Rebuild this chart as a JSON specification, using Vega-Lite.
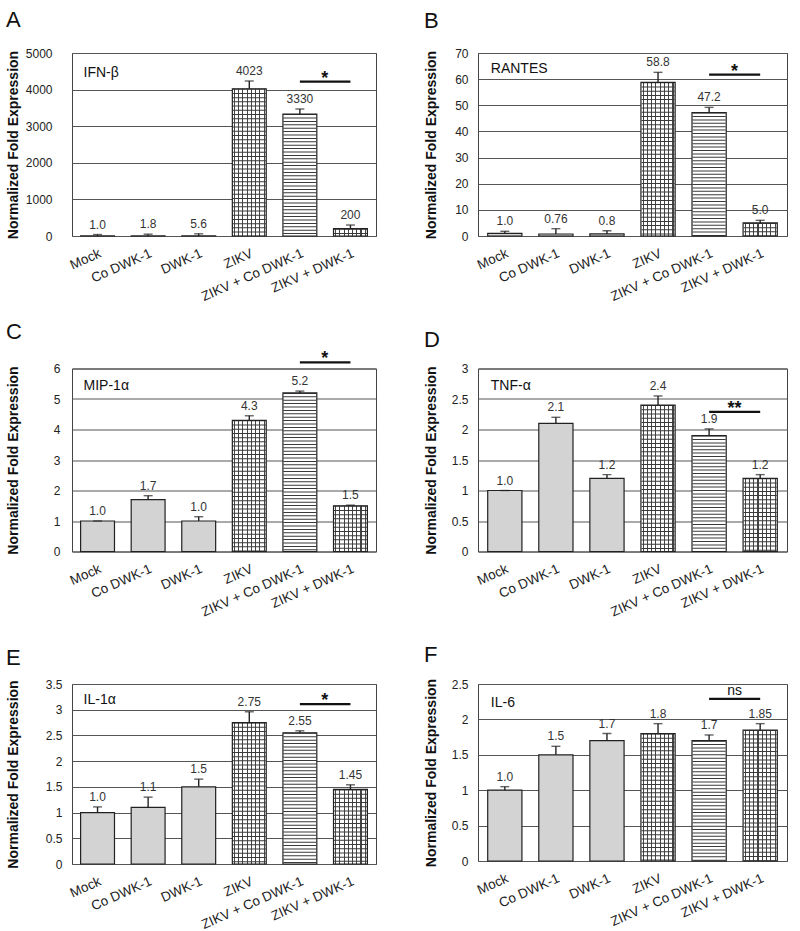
{
"$schema":"https://vega.github.io/schema/vega-lite/v6.json",
"background":"white",
"padding":{"left":5,"top":8,"right":5,"bottom":5},
"datasets":{
"bars":[
{"p":"A","g":"Mock","v":1.0,"hi":40,"lab":"1.0"},
{"p":"A","g":"Co DWK-1","v":1.8,"hi":50,"lab":"1.8"},
{"p":"A","g":"DWK-1","v":5.6,"hi":60,"lab":"5.6"},
{"p":"A","g":"ZIKV","v":4023,"hi":4235,"lab":"4023"},
{"p":"A","g":"ZIKV + Co DWK-1","v":3330,"hi":3470,"lab":"3330"},
{"p":"A","g":"ZIKV + DWK-1","v":200,"hi":300,"lab":"200"},
{"p":"B","g":"Mock","v":1.0,"hi":1.8,"lab":"1.0"},
{"p":"B","g":"Co DWK-1","v":0.76,"hi":2.8,"lab":"0.76"},
{"p":"B","g":"DWK-1","v":0.8,"hi":2.0,"lab":"0.8"},
{"p":"B","g":"ZIKV","v":58.8,"hi":62.6,"lab":"58.8"},
{"p":"B","g":"ZIKV + Co DWK-1","v":47.2,"hi":49.2,"lab":"47.2"},
{"p":"B","g":"ZIKV + DWK-1","v":5.0,"hi":6.0,"lab":"5.0"},
{"p":"C","g":"Mock","v":1.0,"hi":1.0,"lab":"1.0"},
{"p":"C","g":"Co DWK-1","v":1.7,"hi":1.83,"lab":"1.7"},
{"p":"C","g":"DWK-1","v":1.0,"hi":1.14,"lab":"1.0"},
{"p":"C","g":"ZIKV","v":4.3,"hi":4.45,"lab":"4.3"},
{"p":"C","g":"ZIKV + Co DWK-1","v":5.2,"hi":5.26,"lab":"5.2"},
{"p":"C","g":"ZIKV + DWK-1","v":1.5,"hi":1.52,"lab":"1.5"},
{"p":"D","g":"Mock","v":1.0,"hi":1.0,"lab":"1.0"},
{"p":"D","g":"Co DWK-1","v":2.1,"hi":2.2,"lab":"2.1"},
{"p":"D","g":"DWK-1","v":1.2,"hi":1.26,"lab":"1.2"},
{"p":"D","g":"ZIKV","v":2.4,"hi":2.55,"lab":"2.4"},
{"p":"D","g":"ZIKV + Co DWK-1","v":1.9,"hi":2.01,"lab":"1.9"},
{"p":"D","g":"ZIKV + DWK-1","v":1.2,"hi":1.26,"lab":"1.2"},
{"p":"E","g":"Mock","v":1.0,"hi":1.11,"lab":"1.0"},
{"p":"E","g":"Co DWK-1","v":1.1,"hi":1.3,"lab":"1.1"},
{"p":"E","g":"DWK-1","v":1.5,"hi":1.65,"lab":"1.5"},
{"p":"E","g":"ZIKV","v":2.75,"hi":2.96,"lab":"2.75"},
{"p":"E","g":"ZIKV + Co DWK-1","v":2.55,"hi":2.59,"lab":"2.55"},
{"p":"E","g":"ZIKV + DWK-1","v":1.45,"hi":1.54,"lab":"1.45"},
{"p":"F","g":"Mock","v":1.0,"hi":1.05,"lab":"1.0"},
{"p":"F","g":"Co DWK-1","v":1.5,"hi":1.62,"lab":"1.5"},
{"p":"F","g":"DWK-1","v":1.7,"hi":1.8,"lab":"1.7"},
{"p":"F","g":"ZIKV","v":1.8,"hi":1.94,"lab":"1.8"},
{"p":"F","g":"ZIKV + Co DWK-1","v":1.7,"hi":1.78,"lab":"1.7"},
{"p":"F","g":"ZIKV + DWK-1","v":1.85,"hi":1.94,"lab":"1.85"}
],
"ann":[
{"p":"A","name":"IFN-β","m":"Mock","ny":4344,"g":"ZIKV + Co DWK-1","g2":"ZIKV + DWK-1","sy":4216,"sig":"*"},
{"p":"B","name":"RANTES","m":"Mock","ny":62.5,"g":"ZIKV + Co DWK-1","g2":"ZIKV + DWK-1","sy":61.7,"sig":"*"},
{"p":"C","name":"MIP-1α","m":"Mock","ny":5.28,"g":"ZIKV + Co DWK-1","g2":"ZIKV + DWK-1","sy":6.2,"sig":"*"},
{"p":"D","name":"TNF-α","m":"Mock","ny":2.65,"g":"ZIKV + Co DWK-1","g2":"ZIKV + DWK-1","sy":2.29,"sig":"**"},
{"p":"E","name":"IL-1α","m":"Mock","ny":3.11,"g":"ZIKV + Co DWK-1","g2":"ZIKV + DWK-1","sy":3.11,"sig":"*"},
{"p":"F","name":"IL-6","m":"Mock","ny":2.18,"g":"ZIKV + Co DWK-1","g2":"ZIKV + DWK-1","sy":2.29,"sig":"ns"}
]
},
"columns":2,
"spacing":{"row":132.5,"column":102},
"bounds":"flush",
"concat":[
{
"width":304,"height":183,
"title":{"text":"A","offset":15},
"data":{"name":"bars"},
"transform":[{"filter":"datum.p=='A'"}],
"encoding":{
"x":{"field":"g","type":"nominal","title":null,"scale":{"type":"band","domain":["Mock","Co DWK-1","DWK-1","ZIKV","ZIKV + Co DWK-1","ZIKV + DWK-1"],"paddingInner":0.33,"paddingOuter":0.17}},
"y":{"field":"v","type":"quantitative","title":"Normalized  Fold Expression","scale":{"domain":[0,5000],"nice":false},"axis":{"values":[0,1000,2000,3000,4000,5000],"labelPadding":20}}
},
"layer":[
{"mark":{"type":"bar"},"encoding":{"fill":{"condition":{"test":"datum.g=='ZIKV + Co DWK-1'","value":"#ffffff"},"value":"#d3d3d3"}}},
{"transform":[{"filter":"datum.g=='ZIKV'||datum.g=='ZIKV + DWK-1'"}],"mark":{"type":"bar","fill":{"gradient":"linear","x1":0,"y1":0,"x2":1,"y2":0,"stops":[{"offset":0,"color":"#fff"},{"offset":0.046,"color":"#fff"},{"offset":0.046,"color":"#444"},{"offset":0.079,"color":"#444"},{"offset":0.079,"color":"#fff"},{"offset":0.171,"color":"#fff"},{"offset":0.171,"color":"#444"},{"offset":0.204,"color":"#444"},{"offset":0.204,"color":"#fff"},{"offset":0.296,"color":"#fff"},{"offset":0.296,"color":"#444"},{"offset":0.329,"color":"#444"},{"offset":0.329,"color":"#fff"},{"offset":0.421,"color":"#fff"},{"offset":0.421,"color":"#444"},{"offset":0.454,"color":"#444"},{"offset":0.454,"color":"#fff"},{"offset":0.546,"color":"#fff"},{"offset":0.546,"color":"#444"},{"offset":0.579,"color":"#444"},{"offset":0.579,"color":"#fff"},{"offset":0.671,"color":"#fff"},{"offset":0.671,"color":"#444"},{"offset":0.704,"color":"#444"},{"offset":0.704,"color":"#fff"},{"offset":0.796,"color":"#fff"},{"offset":0.796,"color":"#444"},{"offset":0.829,"color":"#444"},{"offset":0.829,"color":"#fff"},{"offset":0.921,"color":"#fff"},{"offset":0.921,"color":"#444"},{"offset":0.954,"color":"#444"},{"offset":0.954,"color":"#fff"},{"offset":1,"color":"#fff"}]}}},
{"transform":[{"filter":"indexof(datum.g,'ZIKV')==0"}],"mark":{"type":"rule","strokeWidth":33,"color":"#3a3a3a","strokeCap":"butt"},"encoding":{"y2":{"datum":0},"strokeDash":{"condition":{"test":"datum.g=='ZIKV + Co DWK-1'","value":[1,2.4]},"value":[1,3.2]}}},
{"mark":{"type":"bar","fill":"transparent","stroke":"#222","strokeWidth":1.2}},
{"mark":{"type":"rule","style":"err"},"encoding":{"y2":{"field":"hi"}}},
{"mark":{"type":"tick","size":9,"thickness":1.4,"color":"#222"},"encoding":{"y":{"field":"hi","type":"quantitative"}}},
{"mark":{"type":"text","style":"vlab"},"encoding":{"y":{"field":"hi","type":"quantitative"},"text":{"field":"lab"}}},
{"data":{"name":"ann"},"transform":[{"filter":"datum.p=='A'"}],"mark":{"type":"rule","style":"sig"},"encoding":{"x2":{"field":"g2"},"y":{"field":"sy","type":"quantitative"}}},
{"data":{"name":"ann"},"transform":[{"filter":"datum.p=='A'"}],"mark":{"type":"text","style":"sigt","dx":25},"encoding":{"y":{"field":"sy","type":"quantitative"},"text":{"field":"sig"}}},
{"data":{"name":"ann"},"transform":[{"filter":"datum.p=='A'"}],"mark":{"type":"text","style":"name"},"encoding":{"x":{"field":"m","type":"nominal"},"y":{"field":"ny","type":"quantitative"},"text":{"field":"name"}}}
]
},
{
"width":309,"height":183,
"title":{"text":"B","offset":14},
"data":{"name":"bars"},
"transform":[{"filter":"datum.p=='B'"}],
"encoding":{
"x":{"field":"g","type":"nominal","title":null,"scale":{"type":"band","domain":["Mock","Co DWK-1","DWK-1","ZIKV","ZIKV + Co DWK-1","ZIKV + DWK-1"],"paddingInner":0.33,"paddingOuter":0.19}},
"y":{"field":"v","type":"quantitative","title":"Normalized  Fold Expression","scale":{"domain":[0,70],"nice":false},"axis":{"values":[0,10,20,30,40,50,60,70],"labelPadding":10,"minExtent":33,"maxExtent":33}}
},
"layer":[
{"mark":{"type":"bar"},"encoding":{"fill":{"condition":{"test":"datum.g=='ZIKV + Co DWK-1'","value":"#ffffff"},"value":"#d3d3d3"}}},
{"transform":[{"filter":"datum.g=='ZIKV'||datum.g=='ZIKV + DWK-1'"}],"mark":{"type":"bar","fill":{"gradient":"linear","x1":0,"y1":0,"x2":1,"y2":0,"stops":[{"offset":0,"color":"#fff"},{"offset":0.046,"color":"#fff"},{"offset":0.046,"color":"#444"},{"offset":0.079,"color":"#444"},{"offset":0.079,"color":"#fff"},{"offset":0.171,"color":"#fff"},{"offset":0.171,"color":"#444"},{"offset":0.204,"color":"#444"},{"offset":0.204,"color":"#fff"},{"offset":0.296,"color":"#fff"},{"offset":0.296,"color":"#444"},{"offset":0.329,"color":"#444"},{"offset":0.329,"color":"#fff"},{"offset":0.421,"color":"#fff"},{"offset":0.421,"color":"#444"},{"offset":0.454,"color":"#444"},{"offset":0.454,"color":"#fff"},{"offset":0.546,"color":"#fff"},{"offset":0.546,"color":"#444"},{"offset":0.579,"color":"#444"},{"offset":0.579,"color":"#fff"},{"offset":0.671,"color":"#fff"},{"offset":0.671,"color":"#444"},{"offset":0.704,"color":"#444"},{"offset":0.704,"color":"#fff"},{"offset":0.796,"color":"#fff"},{"offset":0.796,"color":"#444"},{"offset":0.829,"color":"#444"},{"offset":0.829,"color":"#fff"},{"offset":0.921,"color":"#fff"},{"offset":0.921,"color":"#444"},{"offset":0.954,"color":"#444"},{"offset":0.954,"color":"#fff"},{"offset":1,"color":"#fff"}]}}},
{"transform":[{"filter":"indexof(datum.g,'ZIKV')==0"}],"mark":{"type":"rule","strokeWidth":33,"color":"#3a3a3a","strokeCap":"butt"},"encoding":{"y2":{"datum":0},"strokeDash":{"condition":{"test":"datum.g=='ZIKV + Co DWK-1'","value":[1,2.4]},"value":[1,3.2]}}},
{"mark":{"type":"bar","fill":"transparent","stroke":"#222","strokeWidth":1.2}},
{"mark":{"type":"rule","style":"err"},"encoding":{"y2":{"field":"hi"}}},
{"mark":{"type":"tick","size":9,"thickness":1.4,"color":"#222"},"encoding":{"y":{"field":"hi","type":"quantitative"}}},
{"mark":{"type":"text","style":"vlab"},"encoding":{"y":{"field":"hi","type":"quantitative"},"text":{"field":"lab"}}},
{"data":{"name":"ann"},"transform":[{"filter":"datum.p=='B'"}],"mark":{"type":"rule","style":"sig"},"encoding":{"x2":{"field":"g2"},"y":{"field":"sy","type":"quantitative"}}},
{"data":{"name":"ann"},"transform":[{"filter":"datum.p=='B'"}],"mark":{"type":"text","style":"sigt","dx":25.5},"encoding":{"y":{"field":"sy","type":"quantitative"},"text":{"field":"sig"}}},
{"data":{"name":"ann"},"transform":[{"filter":"datum.p=='B'"}],"mark":{"type":"text","style":"name"},"encoding":{"x":{"field":"m","type":"nominal"},"y":{"field":"ny","type":"quantitative"},"text":{"field":"name"}}}
]
},
{
"width":304,"height":183,
"title":{"text":"C","offset":6},
"data":{"name":"bars"},
"transform":[{"filter":"datum.p=='C'"}],
"encoding":{
"x":{"field":"g","type":"nominal","title":null,"scale":{"type":"band","domain":["Mock","Co DWK-1","DWK-1","ZIKV","ZIKV + Co DWK-1","ZIKV + DWK-1"],"paddingInner":0.33,"paddingOuter":0.17}},
"y":{"field":"v","type":"quantitative","title":"Normalized  Fold Expression","scale":{"domain":[0,6],"nice":false},"axis":{"values":[0,1,2,3,4,5,6],"labelPadding":12}}
},
"layer":[
{"mark":{"type":"bar"},"encoding":{"fill":{"condition":{"test":"datum.g=='ZIKV + Co DWK-1'","value":"#ffffff"},"value":"#d3d3d3"}}},
{"transform":[{"filter":"datum.g=='ZIKV'||datum.g=='ZIKV + DWK-1'"}],"mark":{"type":"bar","fill":{"gradient":"linear","x1":0,"y1":0,"x2":1,"y2":0,"stops":[{"offset":0,"color":"#fff"},{"offset":0.046,"color":"#fff"},{"offset":0.046,"color":"#444"},{"offset":0.079,"color":"#444"},{"offset":0.079,"color":"#fff"},{"offset":0.171,"color":"#fff"},{"offset":0.171,"color":"#444"},{"offset":0.204,"color":"#444"},{"offset":0.204,"color":"#fff"},{"offset":0.296,"color":"#fff"},{"offset":0.296,"color":"#444"},{"offset":0.329,"color":"#444"},{"offset":0.329,"color":"#fff"},{"offset":0.421,"color":"#fff"},{"offset":0.421,"color":"#444"},{"offset":0.454,"color":"#444"},{"offset":0.454,"color":"#fff"},{"offset":0.546,"color":"#fff"},{"offset":0.546,"color":"#444"},{"offset":0.579,"color":"#444"},{"offset":0.579,"color":"#fff"},{"offset":0.671,"color":"#fff"},{"offset":0.671,"color":"#444"},{"offset":0.704,"color":"#444"},{"offset":0.704,"color":"#fff"},{"offset":0.796,"color":"#fff"},{"offset":0.796,"color":"#444"},{"offset":0.829,"color":"#444"},{"offset":0.829,"color":"#fff"},{"offset":0.921,"color":"#fff"},{"offset":0.921,"color":"#444"},{"offset":0.954,"color":"#444"},{"offset":0.954,"color":"#fff"},{"offset":1,"color":"#fff"}]}}},
{"transform":[{"filter":"indexof(datum.g,'ZIKV')==0"}],"mark":{"type":"rule","strokeWidth":33,"color":"#3a3a3a","strokeCap":"butt"},"encoding":{"y2":{"datum":0},"strokeDash":{"condition":{"test":"datum.g=='ZIKV + Co DWK-1'","value":[1,2.4]},"value":[1,3.2]}}},
{"mark":{"type":"bar","fill":"transparent","stroke":"#222","strokeWidth":1.2}},
{"mark":{"type":"rule","style":"err"},"encoding":{"y2":{"field":"hi"}}},
{"mark":{"type":"tick","size":9,"thickness":1.4,"color":"#222"},"encoding":{"y":{"field":"hi","type":"quantitative"}}},
{"mark":{"type":"text","style":"vlab"},"encoding":{"y":{"field":"hi","type":"quantitative"},"text":{"field":"lab"}}},
{"data":{"name":"ann"},"transform":[{"filter":"datum.p=='C'"}],"mark":{"type":"rule","style":"sig"},"encoding":{"x2":{"field":"g2"},"y":{"field":"sy","type":"quantitative"}}},
{"data":{"name":"ann"},"transform":[{"filter":"datum.p=='C'"}],"mark":{"type":"text","style":"sigt","dx":25},"encoding":{"y":{"field":"sy","type":"quantitative"},"text":{"field":"sig"}}},
{"data":{"name":"ann"},"transform":[{"filter":"datum.p=='C'"}],"mark":{"type":"text","style":"name"},"encoding":{"x":{"field":"m","type":"nominal"},"y":{"field":"ny","type":"quantitative"},"text":{"field":"name"}}}
]
},
{
"width":309,"height":183,
"title":{"text":"D","offset":11},
"data":{"name":"bars"},
"transform":[{"filter":"datum.p=='D'"}],
"encoding":{
"x":{"field":"g","type":"nominal","title":null,"scale":{"type":"band","domain":["Mock","Co DWK-1","DWK-1","ZIKV","ZIKV + Co DWK-1","ZIKV + DWK-1"],"paddingInner":0.33,"paddingOuter":0.19}},
"y":{"field":"v","type":"quantitative","title":"Normalized  Fold Expression","scale":{"domain":[0,3],"nice":false},"axis":{"values":[0,0.5,1,1.5,2,2.5,3],"labelPadding":10,"minExtent":33,"maxExtent":33}}
},
"layer":[
{"mark":{"type":"bar"},"encoding":{"fill":{"condition":{"test":"datum.g=='ZIKV + Co DWK-1'","value":"#ffffff"},"value":"#d3d3d3"}}},
{"transform":[{"filter":"datum.g=='ZIKV'||datum.g=='ZIKV + DWK-1'"}],"mark":{"type":"bar","fill":{"gradient":"linear","x1":0,"y1":0,"x2":1,"y2":0,"stops":[{"offset":0,"color":"#fff"},{"offset":0.046,"color":"#fff"},{"offset":0.046,"color":"#444"},{"offset":0.079,"color":"#444"},{"offset":0.079,"color":"#fff"},{"offset":0.171,"color":"#fff"},{"offset":0.171,"color":"#444"},{"offset":0.204,"color":"#444"},{"offset":0.204,"color":"#fff"},{"offset":0.296,"color":"#fff"},{"offset":0.296,"color":"#444"},{"offset":0.329,"color":"#444"},{"offset":0.329,"color":"#fff"},{"offset":0.421,"color":"#fff"},{"offset":0.421,"color":"#444"},{"offset":0.454,"color":"#444"},{"offset":0.454,"color":"#fff"},{"offset":0.546,"color":"#fff"},{"offset":0.546,"color":"#444"},{"offset":0.579,"color":"#444"},{"offset":0.579,"color":"#fff"},{"offset":0.671,"color":"#fff"},{"offset":0.671,"color":"#444"},{"offset":0.704,"color":"#444"},{"offset":0.704,"color":"#fff"},{"offset":0.796,"color":"#fff"},{"offset":0.796,"color":"#444"},{"offset":0.829,"color":"#444"},{"offset":0.829,"color":"#fff"},{"offset":0.921,"color":"#fff"},{"offset":0.921,"color":"#444"},{"offset":0.954,"color":"#444"},{"offset":0.954,"color":"#fff"},{"offset":1,"color":"#fff"}]}}},
{"transform":[{"filter":"indexof(datum.g,'ZIKV')==0"}],"mark":{"type":"rule","strokeWidth":33,"color":"#3a3a3a","strokeCap":"butt"},"encoding":{"y2":{"datum":0},"strokeDash":{"condition":{"test":"datum.g=='ZIKV + Co DWK-1'","value":[1,2.4]},"value":[1,3.2]}}},
{"mark":{"type":"bar","fill":"transparent","stroke":"#222","strokeWidth":1.2}},
{"mark":{"type":"rule","style":"err"},"encoding":{"y2":{"field":"hi"}}},
{"mark":{"type":"tick","size":9,"thickness":1.4,"color":"#222"},"encoding":{"y":{"field":"hi","type":"quantitative"}}},
{"mark":{"type":"text","style":"vlab"},"encoding":{"y":{"field":"hi","type":"quantitative"},"text":{"field":"lab"}}},
{"data":{"name":"ann"},"transform":[{"filter":"datum.p=='D'"}],"mark":{"type":"rule","style":"sig"},"encoding":{"x2":{"field":"g2"},"y":{"field":"sy","type":"quantitative"}}},
{"data":{"name":"ann"},"transform":[{"filter":"datum.p=='D'"}],"mark":{"type":"text","style":"sigt","dx":25.5},"encoding":{"y":{"field":"sy","type":"quantitative"},"text":{"field":"sig"}}},
{"data":{"name":"ann"},"transform":[{"filter":"datum.p=='D'"}],"mark":{"type":"text","style":"name"},"encoding":{"x":{"field":"m","type":"nominal"},"y":{"field":"ny","type":"quantitative"},"text":{"field":"name"}}}
]
},
{
"width":304,"height":180,
"title":{"text":"E","offset":8},
"data":{"name":"bars"},
"transform":[{"filter":"datum.p=='E'"}],
"encoding":{
"x":{"field":"g","type":"nominal","title":null,"scale":{"type":"band","domain":["Mock","Co DWK-1","DWK-1","ZIKV","ZIKV + Co DWK-1","ZIKV + DWK-1"],"paddingInner":0.33,"paddingOuter":0.17}},
"y":{"field":"v","type":"quantitative","title":"Normalized  Fold Expression","scale":{"domain":[0,3.5],"nice":false},"axis":{"values":[0,0.5,1,1.5,2,2.5,3,3.5],"labelPadding":10}}
},
"layer":[
{"mark":{"type":"bar"},"encoding":{"fill":{"condition":{"test":"datum.g=='ZIKV + Co DWK-1'","value":"#ffffff"},"value":"#d3d3d3"}}},
{"transform":[{"filter":"datum.g=='ZIKV'||datum.g=='ZIKV + DWK-1'"}],"mark":{"type":"bar","fill":{"gradient":"linear","x1":0,"y1":0,"x2":1,"y2":0,"stops":[{"offset":0,"color":"#fff"},{"offset":0.046,"color":"#fff"},{"offset":0.046,"color":"#444"},{"offset":0.079,"color":"#444"},{"offset":0.079,"color":"#fff"},{"offset":0.171,"color":"#fff"},{"offset":0.171,"color":"#444"},{"offset":0.204,"color":"#444"},{"offset":0.204,"color":"#fff"},{"offset":0.296,"color":"#fff"},{"offset":0.296,"color":"#444"},{"offset":0.329,"color":"#444"},{"offset":0.329,"color":"#fff"},{"offset":0.421,"color":"#fff"},{"offset":0.421,"color":"#444"},{"offset":0.454,"color":"#444"},{"offset":0.454,"color":"#fff"},{"offset":0.546,"color":"#fff"},{"offset":0.546,"color":"#444"},{"offset":0.579,"color":"#444"},{"offset":0.579,"color":"#fff"},{"offset":0.671,"color":"#fff"},{"offset":0.671,"color":"#444"},{"offset":0.704,"color":"#444"},{"offset":0.704,"color":"#fff"},{"offset":0.796,"color":"#fff"},{"offset":0.796,"color":"#444"},{"offset":0.829,"color":"#444"},{"offset":0.829,"color":"#fff"},{"offset":0.921,"color":"#fff"},{"offset":0.921,"color":"#444"},{"offset":0.954,"color":"#444"},{"offset":0.954,"color":"#fff"},{"offset":1,"color":"#fff"}]}}},
{"transform":[{"filter":"indexof(datum.g,'ZIKV')==0"}],"mark":{"type":"rule","strokeWidth":33,"color":"#3a3a3a","strokeCap":"butt"},"encoding":{"y2":{"datum":0},"strokeDash":{"condition":{"test":"datum.g=='ZIKV + Co DWK-1'","value":[1,2.4]},"value":[1,3.2]}}},
{"mark":{"type":"bar","fill":"transparent","stroke":"#222","strokeWidth":1.2}},
{"mark":{"type":"rule","style":"err"},"encoding":{"y2":{"field":"hi"}}},
{"mark":{"type":"tick","size":9,"thickness":1.4,"color":"#222"},"encoding":{"y":{"field":"hi","type":"quantitative"}}},
{"mark":{"type":"text","style":"vlab"},"encoding":{"y":{"field":"hi","type":"quantitative"},"text":{"field":"lab"}}},
{"data":{"name":"ann"},"transform":[{"filter":"datum.p=='E'"}],"mark":{"type":"rule","style":"sig"},"encoding":{"x2":{"field":"g2"},"y":{"field":"sy","type":"quantitative"}}},
{"data":{"name":"ann"},"transform":[{"filter":"datum.p=='E'"}],"mark":{"type":"text","style":"sigt","dx":25},"encoding":{"y":{"field":"sy","type":"quantitative"},"text":{"field":"sig"}}},
{"data":{"name":"ann"},"transform":[{"filter":"datum.p=='E'"}],"mark":{"type":"text","style":"name"},"encoding":{"x":{"field":"m","type":"nominal"},"y":{"field":"ny","type":"quantitative"},"text":{"field":"name"}}}
]
},
{
"width":309,"height":177,
"title":{"text":"F","offset":9},
"data":{"name":"bars"},
"transform":[{"filter":"datum.p=='F'"}],
"encoding":{
"x":{"field":"g","type":"nominal","title":null,"scale":{"type":"band","domain":["Mock","Co DWK-1","DWK-1","ZIKV","ZIKV + Co DWK-1","ZIKV + DWK-1"],"paddingInner":0.33,"paddingOuter":0.19}},
"y":{"field":"v","type":"quantitative","title":"Normalized  Fold Expression","scale":{"domain":[0,2.5],"nice":false},"axis":{"values":[0,0.5,1,1.5,2,2.5],"labelPadding":10,"minExtent":33,"maxExtent":33}}
},
"layer":[
{"mark":{"type":"bar"},"encoding":{"fill":{"condition":{"test":"datum.g=='ZIKV + Co DWK-1'","value":"#ffffff"},"value":"#d3d3d3"}}},
{"transform":[{"filter":"datum.g=='ZIKV'||datum.g=='ZIKV + DWK-1'"}],"mark":{"type":"bar","fill":{"gradient":"linear","x1":0,"y1":0,"x2":1,"y2":0,"stops":[{"offset":0,"color":"#fff"},{"offset":0.046,"color":"#fff"},{"offset":0.046,"color":"#444"},{"offset":0.079,"color":"#444"},{"offset":0.079,"color":"#fff"},{"offset":0.171,"color":"#fff"},{"offset":0.171,"color":"#444"},{"offset":0.204,"color":"#444"},{"offset":0.204,"color":"#fff"},{"offset":0.296,"color":"#fff"},{"offset":0.296,"color":"#444"},{"offset":0.329,"color":"#444"},{"offset":0.329,"color":"#fff"},{"offset":0.421,"color":"#fff"},{"offset":0.421,"color":"#444"},{"offset":0.454,"color":"#444"},{"offset":0.454,"color":"#fff"},{"offset":0.546,"color":"#fff"},{"offset":0.546,"color":"#444"},{"offset":0.579,"color":"#444"},{"offset":0.579,"color":"#fff"},{"offset":0.671,"color":"#fff"},{"offset":0.671,"color":"#444"},{"offset":0.704,"color":"#444"},{"offset":0.704,"color":"#fff"},{"offset":0.796,"color":"#fff"},{"offset":0.796,"color":"#444"},{"offset":0.829,"color":"#444"},{"offset":0.829,"color":"#fff"},{"offset":0.921,"color":"#fff"},{"offset":0.921,"color":"#444"},{"offset":0.954,"color":"#444"},{"offset":0.954,"color":"#fff"},{"offset":1,"color":"#fff"}]}}},
{"transform":[{"filter":"indexof(datum.g,'ZIKV')==0"}],"mark":{"type":"rule","strokeWidth":33,"color":"#3a3a3a","strokeCap":"butt"},"encoding":{"y2":{"datum":0},"strokeDash":{"condition":{"test":"datum.g=='ZIKV + Co DWK-1'","value":[1,2.4]},"value":[1,3.2]}}},
{"mark":{"type":"bar","fill":"transparent","stroke":"#222","strokeWidth":1.2}},
{"mark":{"type":"rule","style":"err"},"encoding":{"y2":{"field":"hi"}}},
{"mark":{"type":"tick","size":9,"thickness":1.4,"color":"#222"},"encoding":{"y":{"field":"hi","type":"quantitative"}}},
{"mark":{"type":"text","style":"vlab"},"encoding":{"y":{"field":"hi","type":"quantitative"},"text":{"field":"lab"}}},
{"data":{"name":"ann"},"transform":[{"filter":"datum.p=='F'"}],"mark":{"type":"rule","style":"sig"},"encoding":{"x2":{"field":"g2"},"y":{"field":"sy","type":"quantitative"}}},
{"data":{"name":"ann"},"transform":[{"filter":"datum.p=='F'"}],"mark":{"type":"text","style":"sigt","dx":25.5,"fontSize":14,"fontWeight":"normal","dy":-4},"encoding":{"y":{"field":"sy","type":"quantitative"},"text":{"field":"sig"}}},
{"data":{"name":"ann"},"transform":[{"filter":"datum.p=='F'"}],"mark":{"type":"text","style":"name"},"encoding":{"x":{"field":"m","type":"nominal"},"y":{"field":"ny","type":"quantitative"},"text":{"field":"name"}}}
]
}
],
"config":{
"font":"Liberation Sans",
"view":{"stroke":"#444","strokeWidth":1},
"axisX":{"labelAngle":-24,"labelAlign":"right","labelBaseline":"top","labelFontSize":13.5,"labelColor":"#222","ticks":false,"domain":false,"grid":false,"labelPadding":10},
"axisY":{"format":"~r","grid":true,"gridColor":"#555","gridOpacity":1,"ticks":false,"domain":false,"labelFontSize":12,"labelColor":"#222","titleFontSize":14,"titleFontWeight":"bold","titleColor":"#111","titlePadding":7,"minExtent":45,"maxExtent":45},
"title":{"anchor":"start","frame":"bounds","fontSize":22,"fontWeight":"normal","color":"#111"},
"style":{
"err":{"color":"#222","strokeWidth":1.4},
"vlab":{"fontSize":12,"baseline":"bottom","dy":-3,"color":"#333"},
"sig":{"color":"#111","strokeWidth":2.2},
"sigt":{"fontSize":18,"fontWeight":"bold","baseline":"alphabetic","dy":2,"color":"#111"},
"name":{"fontSize":14,"align":"left","dx":-14,"baseline":"alphabetic","color":"#111"}
}
}
}
